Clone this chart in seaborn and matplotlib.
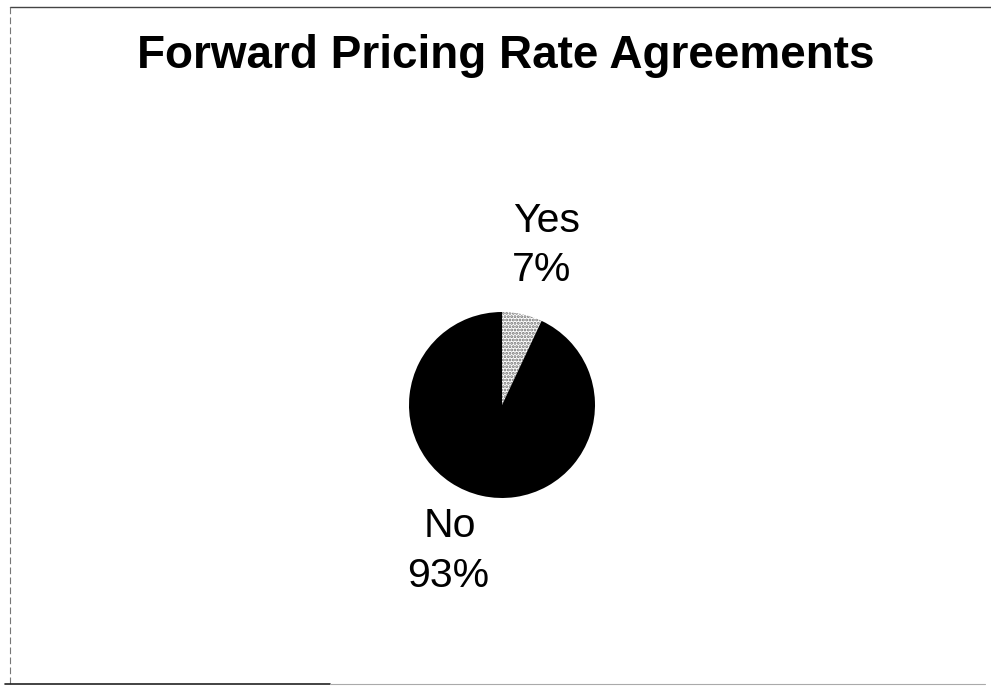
import matplotlib
matplotlib.use("Agg")
import matplotlib.pyplot as plt
import seaborn as sns

# chart data
labels = ["Yes", "No"]
shares = [7, 93]
title = "Forward Pricing Rate Agreements"

sns.set_theme(style="white")
plt.rcParams['font.family'] = ['Liberation Sans', 'DejaVu Sans']
plt.rcParams['text.color'] = 'black'
plt.rcParams['hatch.linewidth'] = 1.4

W, H = 991, 692
fig = plt.figure(figsize=(W / 100, H / 100), dpi=100)
fig.patch.set_facecolor("white")

# pie axes: centre (502, 405) px, radius 93 px
cx, cy, r = 502, 405, 93
ax = fig.add_axes([(cx - r) / W, (H - cy - r) / H, 2 * r / W, 2 * r / H])
wedges, _ = ax.pie(shares, colors=["white", "black"], startangle=90,
                   counterclock=False, radius=1,
                   wedgeprops=dict(linewidth=0))
wedges[0].set_edgecolor("#6e6e6e")
wedges[0].set_linewidth(0)
wedges[0].set_hatch(".....")
ax.set_xlim(-1, 1)
ax.set_ylim(-1, 1)
ax.set_aspect("equal")
ax.axis("off")

# slice labels: name line and percent line, baselines in pie-radius units
name_pos = {"Yes": (0.48, 1.86), "No": (-0.56, -1.42)}
pct_pos = {"Yes": (0.43, 1.33), "No": (-0.575, -1.96)}
for lab, val in zip(labels, shares):
    ax.text(*name_pos[lab], lab, ha="center", va="baseline",
            fontsize=29.5, clip_on=False)
    ax.text(*pct_pos[lab], f"{val}%", ha="center", va="baseline",
            fontsize=29.5, clip_on=False)

fig.text(506 / W, 1 - 68 / H, title, ha="center", va="baseline",
         fontsize=33, fontweight="bold")

# scanned page border
fig.add_artist(plt.Line2D([10 / W, 1], [1 - 7 / H, 1 - 7 / H], color="#444444", lw=1))
fig.add_artist(plt.Line2D([10 / W, 10 / W], [1 - 7 / H, 1 - 684 / H], color="#777777", lw=0.8, ls=(0, (6, 3))))
fig.add_artist(plt.Line2D([5 / W, 330 / W], [1 - 684 / H, 1 - 684 / H], color="#222222", lw=1.2))
fig.add_artist(plt.Line2D([330 / W, 985 / W], [1 - 684 / H, 1 - 684 / H], color="#aaaaaa", lw=0.8))

fig.savefig("out.png", dpi=100)
